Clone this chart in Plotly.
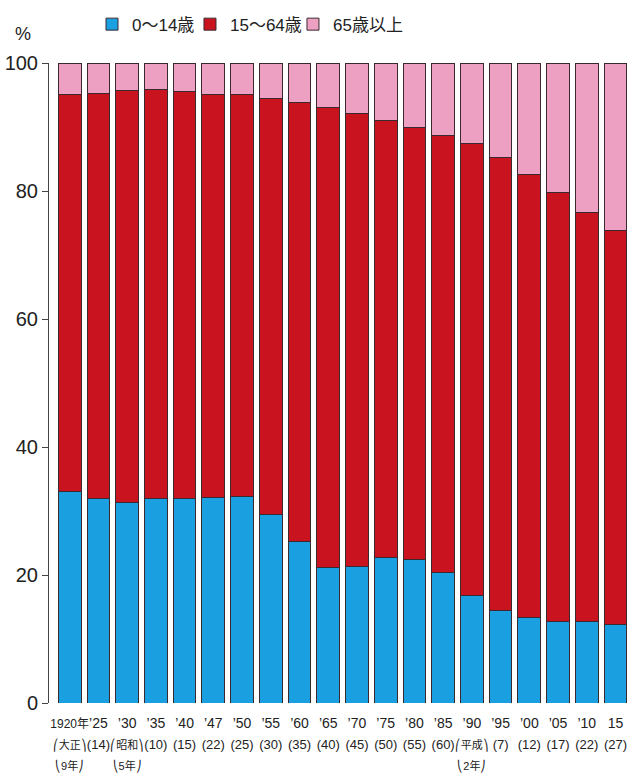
import plotly.graph_objects as go

years = ["1920", "1925", "1930", "1935", "1940", "1947", "1950", "1955", "1960", "1965",
         "1970", "1975", "1980", "1985", "1990", "1995", "2000", "2005", "2010", "2015"]
row1 = ["1920年", "’25", "’30", "’35", "’40", "’47", "’50", "’55", "’60", "’65",
        "’70", "’75", "’80", "’85", "’90", "’95", "’00", "’05", "’10", "15"]
row2 = ["⎛大正⎞", "(14)", "⎛昭和⎞", "(10)", "(15)", "(22)", "(25)", "(30)", "(35)", "(40)",
        "(45)", "(50)", "(55)", "(60)", "⎛平成⎞", "(7)", "(12)", "(17)", "(22)", "(27)"]
row3 = ["⎝9年⎠", "", "⎝5年⎠", "", "", "", "", "", "", "",
        "", "", "", "", "⎝2年⎠", "", "", "", "", ""]
age_0_14 = [33.0, 31.9, 31.3, 31.9, 32.0, 32.1, 32.2, 29.4, 25.3, 21.2,
            21.3, 22.7, 22.5, 20.4, 16.8, 14.5, 13.3, 12.7, 12.7, 12.2]
age_15_64 = [62.1, 63.4, 64.4, 64.0, 63.5, 63.0, 62.9, 65.0, 68.5, 71.9,
             70.8, 68.3, 67.5, 68.3, 70.6, 70.7, 69.3, 67.0, 64.0, 61.7]
age_65 = [4.9, 4.7, 4.3, 4.1, 4.5, 4.9, 4.9, 5.6, 6.2, 6.9,
          7.9, 9.0, 10.0, 11.3, 12.6, 14.8, 17.4, 20.3, 23.3, 26.1]
series_names = ["0～14歳", "15～64歳", "65歳以上"]
colors = ["#1aa0e0", "#c9141f", "#eda0c2"]


def sp(text, size):
    return "<span style='font-size:%gpx'>%s</span>" % (size, text)


tick_labels = []
for a, b, c in zip(row1, row2, row3):
    first = sp(a, 12 if len(a) > 3 else 14)
    if c:
        tick_labels.append(first + "<br>" + sp(b, 11) + "<br>" + sp(c, 11))
    else:
        tick_labels.append(first + "<br>" + sp(b, 13))

FONT = "Liberation Sans, Noto Sans CJK JP, sans-serif"

fig = go.Figure()
legend_ids = ["legend", "legend2", "legend3"]
for name, vals, col, lg in zip(series_names, [age_0_14, age_15_64, age_65], colors, legend_ids):
    fig.add_trace(go.Bar(
        x=years, y=vals, name=name, legend=lg, showlegend=True,
        marker=dict(color=col, line=dict(color="#3a2a30", width=1)),
    ))

leg_common = dict(orientation="h", y=1.06, xanchor="left", yanchor="middle", visible=True,
                  font=dict(size=17), bgcolor="rgba(0,0,0,0)")

fig.update_layout(
    width=627, height=776,
    barmode="stack", bargap=0.21, showlegend=True,
    paper_bgcolor="white", plot_bgcolor="white",
    margin=dict(l=49, r=0, t=63, b=73, autoexpand=False),
    font=dict(family=FONT, size=15, color="#222222"),
    legend=dict(x=0.0744, **leg_common),
    legend2=dict(x=0.2439, **leg_common),
    legend3=dict(x=0.4221, **leg_common),
    xaxis=dict(type="category", range=[-0.72, 19.4], tickvals=years, ticktext=tick_labels,
               showline=False, ticks="", showgrid=False, tickangle=0, automargin=False,
               tickfont=dict(size=16), ticklabelstandoff=8),
    yaxis=dict(range=[0, 100], tickvals=[0, 20, 40, 60, 80, 100], showline=True,
               linecolor="#444444", linewidth=1, ticks="outside", ticklen=6,
               tickcolor="#444444", showgrid=False, zeroline=False, automargin=False,
               tickfont=dict(size=20)),
    annotations=[dict(text="%", x=-0.045, y=1.027, xref="paper", yref="paper",
                      showarrow=False, font=dict(size=18), xanchor="center", yanchor="bottom")],
)

fig.write_html("out.html", config={"displayModeBar": False},
               post_script="document.body.style.margin='0px';")
